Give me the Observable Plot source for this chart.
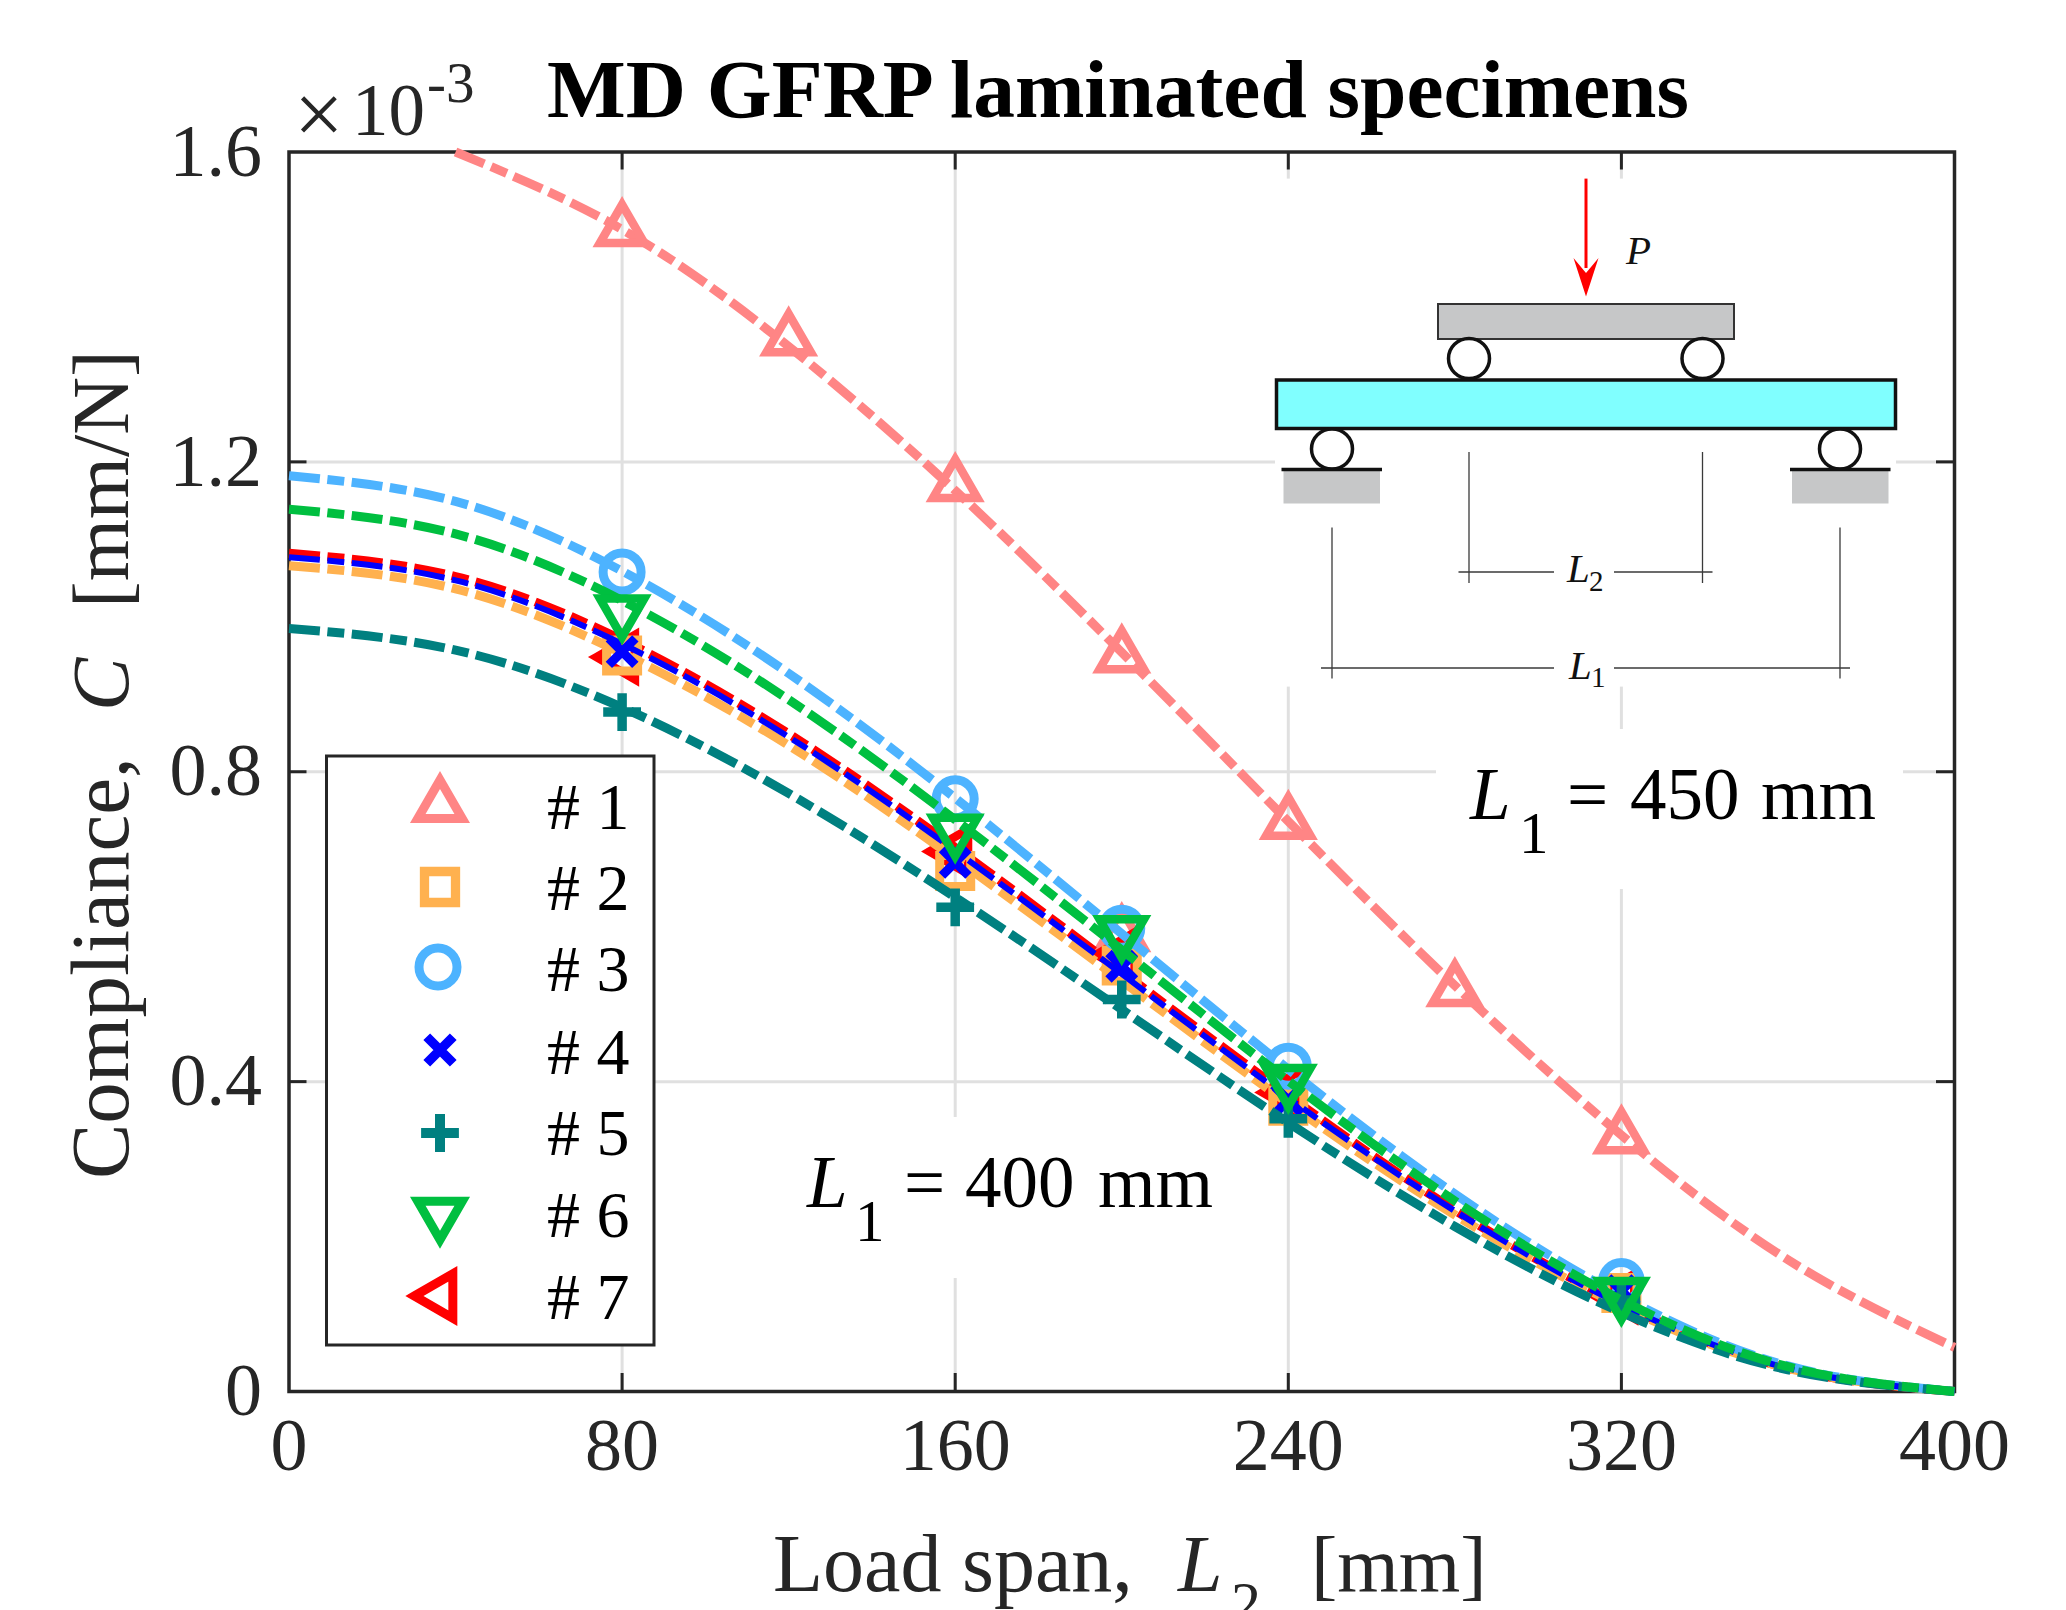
<!DOCTYPE html>
<html>
<head>
<meta charset="utf-8">
<script src="https://cdn.jsdelivr.net/npm/d3@7"></script>
<script src="https://cdn.jsdelivr.net/npm/@observablehq/plot@0.6"></script>
<style>
html,body{margin:0;padding:0;background:#fff;overflow:hidden}
svg{display:block}
</style>
</head>
<body>
<div id="chart"></div>
<script>
// ---- data ----
const xTicks = [0, 80, 160, 240, 320, 400];
const yTicks = [0, 0.4, 0.8, 1.2, 1.6];
const gridXValues = [80, 160, 240, 320];
const gridYValues = [0.4, 0.8, 1.2];

const specimenNames = ["# 1", "# 2", "# 3", "# 4", "# 5", "# 6", "# 7"];

const fitSpan450 = [40, 80, 120, 160, 200, 240, 280, 320, 360, 400];
const fitSpan400 = [0, 40, 80, 120, 160, 200, 240, 280, 320, 360, 400];

const fit1 = [1.600, 1.500, 1.349, 1.163, 0.954, 0.736, 0.524, 0.331, 0.170, 0.057];
const fit2 = [1.066, 1.036, 0.953, 0.834, 0.688, 0.530, 0.372, 0.228, 0.110, 0.030, 0];
const fit3 = [1.182, 1.149, 1.059, 0.927, 0.766, 0.591, 0.416, 0.255, 0.123, 0.033, 0];
const fit4 = [1.077, 1.047, 0.965, 0.845, 0.698, 0.539, 0.379, 0.233, 0.112, 0.030, 0];
const fit5 = [0.985, 0.957, 0.883, 0.772, 0.638, 0.493, 0.347, 0.213, 0.102, 0.028, 0];
const fit6 = [1.139, 1.107, 1.021, 0.893, 0.738, 0.570, 0.401, 0.246, 0.118, 0.032, 0];
const fit7 = [1.082, 1.052, 0.970, 0.849, 0.702, 0.542, 0.382, 0.234, 0.113, 0.030, 0];

const pointSpan1 = [80, 120, 160, 200, 240, 280, 320, 200];
const pointSpan = [80, 160, 200, 240, 320];
const points1 = [1.499, 1.358, 1.170, 0.949, 0.734, 0.518, 0.328, 0.589];
const points2 = [0.950, 0.672, 0.550, 0.369, 0.127];
const points3 = [1.058, 0.765, 0.598, 0.420, 0.142];
const points4 = [0.955, 0.683, 0.549, 0.376, 0.130];
const points5 = [0.877, 0.625, 0.506, 0.352, 0.118];
const points6 = [1.007, 0.724, 0.593, 0.401, 0.126];
const points7 = [0.948, 0.697, 0.564, 0.386, 0.123];

const colors = {s1:"#ff8585", s2:"#ffb14f", s3:"#4db3ff", s4:"#0000ff", s5:"#008080", s6:"#00bf40", s7:"#ff0000"};
const ink = "#262626";
const serif = "'Liberation Serif','Times New Roman',serif";

const W = 2066, H = 1610;
const dash = "31,7.5,17,7.5";

const zip = (xs, ys) => xs.map((x, i) => ({x, y: ys[i]}));

// draw order front-most last, as in the picture
const drawOrder = [
  {color: colors.s1, lw: 9, symbol: "triangle", r: 16.5, sw: 8.5, rotate: 0,   fit: zip(fitSpan450, fit1), pts: zip(pointSpan1, points1)},
  {color: colors.s7, lw: 9, symbol: "triangle", r: 16.5, sw: 8.5, rotate: -90, fit: zip(fitSpan400, fit7), pts: zip(pointSpan, points7)},
  {color: colors.s2, lw: 9, symbol: "square",   r: 17.5, sw: 9,   rotate: 0,   fit: zip(fitSpan400, fit2), pts: zip(pointSpan, points2)},
  {color: colors.s3, lw: 9, symbol: "circle",   r: 19,   sw: 9,   rotate: 0,   fit: zip(fitSpan400, fit3), pts: zip(pointSpan, points3)},
  {color: colors.s4, lw: 6, symbol: "times",    r: 12.1, sw: 9,   rotate: 0,   fit: zip(fitSpan400, fit4), pts: zip(pointSpan, points4)},
  {color: colors.s5, lw: 9, symbol: "plus",     r: 12.2, sw: 9.5, rotate: 0,   fit: zip(fitSpan400, fit5), pts: zip(pointSpan, points5)},
  {color: colors.s6, lw: 9, symbol: "triangle", r: 16.5, sw: 8.5, rotate: 180, fit: zip(fitSpan400, fit6), pts: zip(pointSpan, points6)}
];

const seriesMarks = drawOrder.flatMap(s => [
  Plot.line(s.fit, {x: "x", y: "y", stroke: s.color, strokeWidth: s.lw, strokeDasharray: dash,
    strokeLinecap: "butt", strokeLinejoin: "round", curve: "natural"}),
  Plot.dot(s.pts, {x: "x", y: "y", symbol: s.symbol, r: s.r, stroke: s.color, strokeWidth: s.sw,
    fill: "none", rotate: s.rotate})
]);

// ---- helpers for decoration ----
function richText(g, x, y, text, opts = {}) {
  const t = g.append("text").attr("x", x).attr("y", y)
    .attr("font-family", serif).attr("fill", opts.fill || ink)
    .attr("font-size", opts.size).attr("text-anchor", opts.anchor || "start")
    .style("white-space", "pre").text(text);
  if (opts.weight) t.attr("font-weight", opts.weight);
  if (opts.italic) t.attr("font-style", "italic");
  if (opts.rotate != null) t.attr("transform", `rotate(${opts.rotate} ${x} ${y})`);
  return t;
}

const masks = () => {
  const g = d3.create("svg:g");
  for (const [x, y, w, h] of [[1275, 178.6, 621, 508], [1436, 729, 467, 160], [800, 1117, 425, 161]])
    g.append("rect").attr("x", x).attr("y", y).attr("width", w).attr("height", h).attr("fill", "#fff");
  return g.node();
};

const schematic = () => {
  const g = d3.create("svg:g");
  const block = "#c6c7c8";
  const rect = (x, y, w, h, fill, stroke, sw) => g.append("rect").attr("x", x).attr("y", y).attr("width", w).attr("height", h)
    .attr("fill", fill).attr("stroke", stroke || "none").attr("stroke-width", sw || 0);
  const line = (x1, y1, x2, y2, c, sw) => g.append("line").attr("x1", x1).attr("y1", y1).attr("x2", x2).attr("y2", y2)
    .attr("stroke", c).attr("stroke-width", sw);
  rect(1438, 304, 296, 35, block, "#333", 2);
  for (const cx of [1469, 1702.5])
    g.append("ellipse").attr("cx", cx).attr("cy", 358.5).attr("rx", 20.5).attr("ry", 20).attr("fill", "#fff").attr("stroke", "#111").attr("stroke-width", 3.5);
  rect(1276.5, 380, 619, 48.5, "#80ffff", "#111", 3.5);
  for (const [cx, x0, x1] of [[1332, 1283.5, 1380], [1840, 1792, 1888.5]]) {
    g.append("ellipse").attr("cx", cx).attr("cy", 449).attr("rx", 20.5).attr("ry", 20).attr("fill", "#fff").attr("stroke", "#111").attr("stroke-width", 3.5);
    rect(x0, 470, x1 - x0, 33.5, block);
    line(x0 - 2, 469.5, x1 + 2, 469.5, "#111", 3.5);
  }
  line(1586, 178.6, 1586, 268, "#ff0000", 3);
  g.append("path").attr("d", "M1586 296.5L1573.5 258L1586 273L1598.5 258Z").attr("fill", "#ff0000");
  const dim = "#3a3a3a";
  line(1469, 452, 1469, 583, dim, 1.3);
  line(1702.5, 452, 1702.5, 583, dim, 1.3);
  line(1458.5, 572, 1554, 572, dim, 1.6);
  line(1614, 572, 1712.5, 572, dim, 1.6);
  line(1332, 527.5, 1332, 678.5, dim, 1.3);
  line(1840, 527.5, 1840, 678.5, dim, 1.3);
  line(1321, 668, 1554, 668, dim, 1.6);
  line(1614, 668, 1850, 668, dim, 1.6);
  richText(g, 1626, 263.5, "P", {size: 41, fill: "#111", italic: true});
  richText(g, 1567, 582, "L", {size: 41, fill: "#111", italic: true});
  richText(g, 1589, 591, "2", {size: 29, fill: "#111"});
  richText(g, 1569, 678.5, "L", {size: 41, fill: "#111", italic: true});
  richText(g, 1591, 687, "1", {size: 29, fill: "#111"});
  return g.node();
};

const legend = () => {
  const g = d3.create("svg:g");
  g.append("rect").attr("x", 326.5).attr("y", 756).attr("width", 327.5).attr("height", 589)
    .attr("fill", "#fff").attr("stroke", ink).attr("stroke-width", 3);
  const rows = [
    {sym: d3.symbolTriangle, r: 16.5, sw: 9, c: colors.s1, x: 440, y: 805.7, rot: 0},
    {sym: d3.symbolSquare,   r: 17.5, sw: 9.3, c: colors.s2, x: 440, y: 887, rot: 0},
    {sym: d3.symbolCircle,   r: 19,   sw: 9, c: colors.s3, x: 438, y: 967, rot: 0},
    {sym: d3.symbolTimes,    r: 12.1, sw: 9.5, c: colors.s4, x: 440, y: 1050, rot: 0},
    {sym: d3.symbolPlus,     r: 12.2, sw: 10, c: colors.s5, x: 440, y: 1133, rot: 0},
    {sym: d3.symbolTriangle, r: 16.5, sw: 9, c: colors.s6, x: 440, y: 1214, rot: 180},
    {sym: d3.symbolTriangle, r: 16.5, sw: 9, c: colors.s7, x: 440, y: 1296, rot: -90}
  ];
  const baselines = [829, 910, 991, 1074, 1155, 1237, 1319];
  rows.forEach((d, i) => {
    g.append("path").attr("d", d3.symbol(d.sym, Math.PI * d.r * d.r)())
      .attr("transform", `translate(${d.x},${d.y}) rotate(${d.rot})`)
      .attr("fill", "none").attr("stroke", d.c).attr("stroke-width", d.sw);
    richText(g, 547, baselines[i], specimenNames[i], {size: 66, fill: "#000"});
  });
  return g.node();
};

const labels = () => {
  const g = d3.create("svg:g");
  richText(g, 1118, 117, "MD GFRP laminated specimens", {size: 83.4, weight: "bold", anchor: "middle", fill: "#000"});
  richText(g, 294, 144, "\u00d7", {size: 88});
  richText(g, 352, 135, "10", {size: 73});
  richText(g, 427, 102, "-3", {size: 57});
  richText(g, 773, 1591, "Load span,", {size: 82});
  richText(g, 1178, 1591, "L", {size: 80, italic: true});
  richText(g, 1231, 1623, "2", {size: 60});
  richText(g, 1311, 1591, "[mm]", {size: 79});
  richText(g, 128, 1179, "Compliance,", {size: 83, rotate: -90});
  richText(g, 128, 711, "C", {size: 80, italic: true, rotate: -90});
  richText(g, 128, 608, "[mm/N]", {size: 80, rotate: -90});
  richText(g, 1470, 819, "L", {size: 73, fill: "#000", italic: true});
  richText(g, 1519, 853, "1", {size: 59, fill: "#000"});
  richText(g, 1567, 819, "=", {size: 73, fill: "#000"});
  richText(g, 1630, 819, "450", {size: 73, fill: "#000"});
  richText(g, 1761, 819, "mm", {size: 74, fill: "#000"});
  richText(g, 807, 1207, "L", {size: 73, fill: "#000", italic: true});
  richText(g, 855, 1240.5, "1", {size: 59, fill: "#000"});
  richText(g, 904, 1207, "=", {size: 73, fill: "#000"});
  richText(g, 965, 1207, "400", {size: 73, fill: "#000"});
  richText(g, 1098, 1207, "mm", {size: 74, fill: "#000"});
  return g.node();
};

const tickLen = 18;
const chart = Plot.plot({
  width: W, height: H,
  marginLeft: 288.5, marginRight: 112, marginTop: 151.5, marginBottom: 219,
  style: {background: "#fff", fontFamily: serif, overflow: "hidden"},
  x: {domain: [0, 400], label: null},
  y: {domain: [0, 1.6], label: null},
  marks: [
    Plot.gridX(gridXValues, {stroke: "#e0e0e0", strokeWidth: 3, strokeOpacity: 1}),
    Plot.gridY(gridYValues, {stroke: "#e0e0e0", strokeWidth: 3, strokeOpacity: 1}),
    masks,
    Plot.axisX(xTicks, {anchor: "bottom", tickSize: 0, tickPadding: 26, fontSize: 74, fill: ink, label: null, tickFormat: d => String(d)}),
    Plot.axisY(yTicks, {anchor: "left", tickSize: 0, tickPadding: 27, fontSize: 74, fill: ink, label: null, tickFormat: d => d === 0 ? "0" : d.toFixed(1)}),
    Plot.tickX(gridXValues, {x: d => d, insetTop: H - 151.5 - 219 - tickLen, stroke: ink, strokeWidth: 3}),
    Plot.tickX(gridXValues, {x: d => d, insetBottom: H - 151.5 - 219 - tickLen, stroke: ink, strokeWidth: 3}),
    Plot.tickY(gridYValues, {y: d => d, insetRight: W - 288.5 - 112 - tickLen, stroke: ink, strokeWidth: 3}),
    Plot.tickY(gridYValues, {y: d => d, insetLeft: W - 288.5 - 112 - tickLen, stroke: ink, strokeWidth: 3}),
    Plot.frame({stroke: ink, strokeWidth: 3.5}),
    schematic,
    ...seriesMarks,
    legend,
    labels
  ]
});
document.getElementById("chart").appendChild(chart);
</script>
</body>
</html>
